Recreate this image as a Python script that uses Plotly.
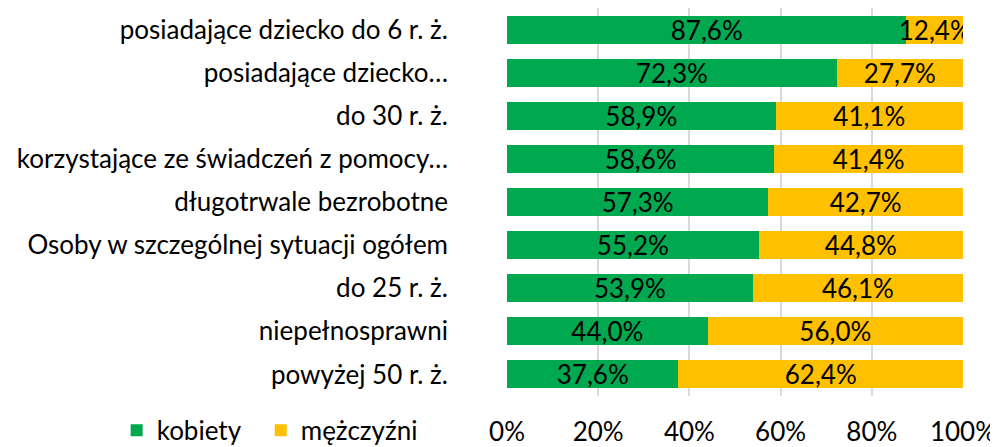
import plotly.graph_objects as go

categories = [
    "posiadające dziecko do 6 r. ż.",
    "posiadające dziecko…",
    "do 30 r. ż.",
    "korzystające ze świadczeń z pomocy…",
    "długotrwale bezrobotne",
    "Osoby w szczególnej sytuacji ogółem",
    "do 25 r. ż.",
    "niepełnosprawni",
    "powyżej 50 r. ż.",
]
kobiety = [87.6, 72.3, 58.9, 58.6, 57.3, 55.2, 53.9, 44.0, 37.6]
mezczyzni = [12.4, 27.7, 41.1, 41.4, 42.7, 44.8, 46.1, 56.0, 62.4]
tick_vals = [0, 20, 40, 60, 80, 100]
tick_text = ["0%", "20%", "40%", "60%", "80%", "100%"]

def fmt(v):
    return f"{v:.1f}%".replace(".", ",")

FONT = "Lato, 'Open Sans', sans-serif"
FS = 26

fig = go.Figure()
fig.add_trace(go.Bar(
    y=categories, x=kobiety, name="kobiety", orientation="h",
    marker=dict(color="#00A94F", line=dict(width=0)),
    text=[fmt(v) for v in kobiety], textposition="inside",
    insidetextanchor="middle", constraintext="none",
    textfont=dict(color="black", size=FS, family=FONT),
    legend="legend",
))
fig.add_trace(go.Bar(
    y=categories, x=mezczyzni, name="mężczyźni", orientation="h",
    marker=dict(color="#FFC000", line=dict(width=0)),
    text=[fmt(v) for v in mezczyzni], textposition="inside",
    insidetextanchor="middle", constraintext="none",
    textfont=dict(color="black", size=FS, family=FONT),
    legend="legend2",
))

leg_common = dict(
    orientation="h", xanchor="left", y=-0.028, yanchor="top",
    font=dict(size=FS, family=FONT), itemwidth=30,
    bgcolor="rgba(0,0,0,0)",
)

fig.update_layout(
    barmode="stack",
    bargap=0.35,
    width=990, height=439,
    margin=dict(l=499, r=35, t=0, b=51, autoexpand=False),
    paper_bgcolor="white", plot_bgcolor="white",
    font=dict(family=FONT, size=FS, color="black"),
    showlegend=True,
    legend=dict(x=-0.856, **leg_common),
    legend2=dict(x=-0.54, **leg_common),
    uniformtext=dict(mode=False),
)
fig.update_xaxes(
    range=[0, 100], tickvals=tick_vals, ticktext=tick_text,
    showgrid=True, gridcolor="#D9D9D9", gridwidth=1.5,
    zeroline=False, showline=False, ticks="", automargin=False,
    ticklabelstandoff=18, tickfont=dict(size=FS, family=FONT),
)
fig.update_yaxes(
    autorange="reversed", showgrid=False, showline=False, ticks="", automargin=False,
    ticklabelstandoff=58, tickfont=dict(size=FS, family=FONT),
)

fig.write_html("out.html")
